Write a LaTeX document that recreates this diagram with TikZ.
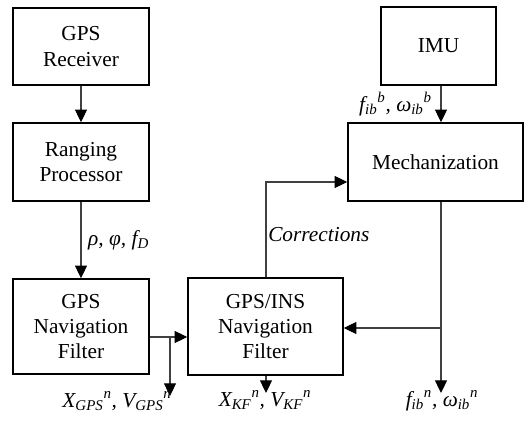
\documentclass[tikz,border=0pt]{standalone}
\usepackage{fontspec}
\setmainfont{Liberation Serif}
\usetikzlibrary{arrows.meta}
\newcommand\sbx[1]{\textsubscript{#1}}
\newcommand\spx[1]{\textsuperscript{#1}}
\begin{document}
\begin{tikzpicture}[x=0.75pt,y=-0.75pt,
  box/.style={draw=black,line width=1.1pt,fill=white,align=center,inner sep=0pt,font=\fontsize{16}{19}\selectfont},
  lbl/.style={inner sep=0pt,font=\fontsize{16}{19}\selectfont\itshape},
  arr/.style={draw=black!75,line width=0.8pt,-{Triangle[length=9.5pt,width=9pt,color=black]}},
  ln/.style={draw=black!75,line width=0.8pt}]
\useasboundingbox (0,0) rectangle (525,421);
\node[box,minimum width={136*0.75pt},minimum height={77*0.75pt}] (rx) at (81,46.5) {GPS\\Receiver};
\node[box,minimum width={136*0.75pt},minimum height={78*0.75pt}] (rp) at (81,162) {Ranging\\Processor};
\node[box,minimum width={136*0.75pt},minimum height={95*0.75pt}] (gnf) at (81,326.5) {GPS\\Navigation\\Filter};
\node[box,minimum width={155*0.75pt},minimum height={97*0.75pt}] (inf) at (265.5,326.5) {GPS/INS\\Navigation\\Filter};
\node[box,minimum width={175*0.75pt},minimum height={78*0.75pt}] (mech) at (435.5,162) {Mechanization};
\node[box,minimum width={115*0.75pt},minimum height={78*0.75pt}] (imu) at (438.5,46) {IMU};
\coordinate (vx) at (441,0);
\coordinate (vc) at (266,0);
\coordinate (br1) at (170,337);
\coordinate (br2) at (441,328);
\coordinate (cor) at (266,182);
\coordinate (e1) at (170,396);
\coordinate (e2) at (266,393);
\coordinate (e3) at (441,393);
\draw[arr] (rx) -- (rp);
\draw[arr] (rp) -- node[lbl,anchor=west,xshift=5pt,pos=0.5]{ρ, φ, f\sbx{D}} (gnf);
\draw[arr] (gnf.east |- br1) -- (inf.west |- br1);
\draw[arr] (br1) -- (e1);
\draw[arr] (inf.north -| vc) -- (cor) -- (mech.west |- cor);
\draw[arr] (inf.south -| vc) -- (e2);
\draw[arr] (imu.south -| vx) -- (mech.north -| vx);
\draw[arr] (mech.south -| vx) -- (e3);
\draw[arr] (br2) -- (inf.east |- br2);
\node[lbl,anchor=west] (lc) at (268,235) {Corrections};
\node[lbl,anchor=base] (l1) at (117,407) {X\sbx{GPS}\spx{n}, V\sbx{GPS}\spx{n}};
\node[lbl,anchor=base] (l2) at (265,406) {X\sbx{KF}\spx{n}, V\sbx{KF}\spx{n}};
\node[lbl,anchor=base] (l3) at (442,406) {f\sbx{ib}\spx{n}, ω\sbx{ib}\spx{n}};
\node[lbl,anchor=base east] (l4) at (432,111) {f\sbx{ib}\spx{b}, ω\sbx{ib}\spx{b}};
\end{tikzpicture}
\end{document}
